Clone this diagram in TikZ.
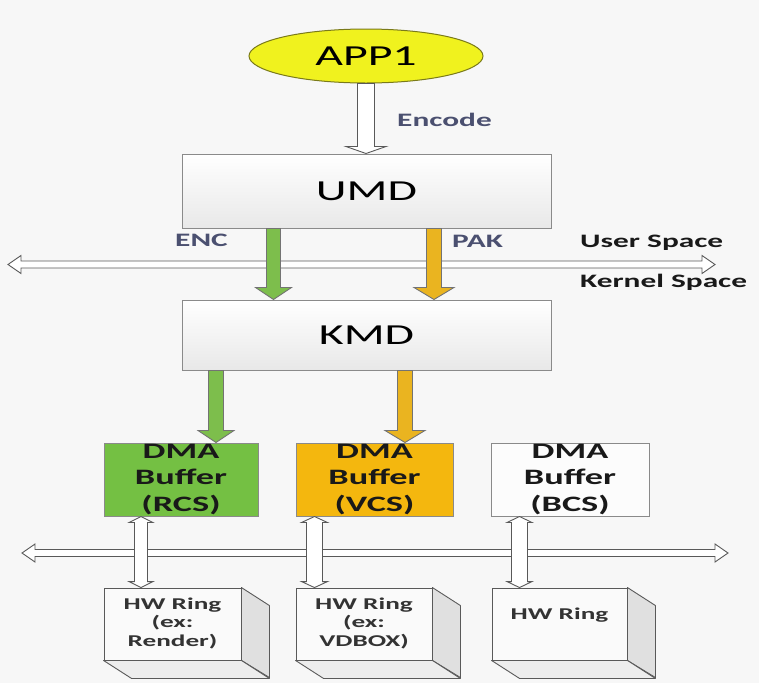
\documentclass[tikz,border=0pt]{standalone}
\usepackage{fontspec}
\setmainfont{Carlito}[FakeStretch=1.65]
\usetikzlibrary{calc,shapes.geometric}
\definecolor{bgc}{HTML}{F7F7F7}
\definecolor{boxline}{HTML}{8A8A8A}
\definecolor{appfill}{HTML}{F0F21E}
\definecolor{appline}{HTML}{7A7A1A}
\definecolor{dmagreen}{HTML}{74C043}
\definecolor{dmaorange}{HTML}{F4B70E}
\definecolor{arrgreen}{HTML}{7DBE4C}
\definecolor{arrorange}{HTML}{EAB420}
\definecolor{lblc}{HTML}{4B5070}
\definecolor{hwtxt}{HTML}{333333}
\newcommand\varrow[6]{\path[#1] let \p1=#2, \p2=#3 in
  (\x1-#4pt,\y1) -- (\x1+#4pt,\y1) -- (\x1+#4pt,\y2+#6pt) -- (\x1+#5pt,\y2+#6pt)
  -- (\x1,\y2) -- (\x1-#5pt,\y2+#6pt) -- (\x1-#4pt,\y2+#6pt) -- cycle;}
\newcommand\dvarrow[6]{\path[#1] let \p1=#2, \p2=#3 in
  (\x1,\y1) -- (\x1+#5pt,\y1-#6pt) -- (\x1+#4pt,\y1-#6pt) -- (\x1+#4pt,\y2+#6pt)
  -- (\x1+#5pt,\y2+#6pt) -- (\x1,\y2) -- (\x1-#5pt,\y2+#6pt) -- (\x1-#4pt,\y2+#6pt)
  -- (\x1-#4pt,\y1-#6pt) -- (\x1-#5pt,\y1-#6pt) -- cycle;}
\newcommand\harrow[6]{\path[#1] let \p1=#2, \p2=#3 in
  (\x1,\y1) -- (\x1+#6pt,\y1+#5pt) -- (\x1+#6pt,\y1+#4pt) -- (\x2-#6pt,\y1+#4pt)
  -- (\x2-#6pt,\y1+#5pt) -- (\x2,\y1) -- (\x2-#6pt,\y1-#5pt) -- (\x2-#6pt,\y1-#4pt)
  -- (\x1+#6pt,\y1-#4pt) -- (\x1+#6pt,\y1-#5pt) -- cycle;}
\begin{document}
\begin{tikzpicture}[x=1pt,y=-1pt,
  graybox/.style={draw=boxline,line width=1pt,rectangle,top color=white,bottom color=black!9,
    minimum width=369pt,minimum height=72pt,inner sep=0pt,font=\fontsize{29}{34}\selectfont},
  dmabox/.style={draw=boxline,line width=1pt,rectangle,minimum height=73pt,inner sep=0pt,
    align=center,text=black!90,font=\bfseries\fontsize{22}{26.5}\selectfont},
  hwbox/.style={draw=black!65,line width=0.9pt,rectangle,fill=black!2,minimum height=72pt,inner sep=0pt},
  hwside/.style={draw=black!65,line width=0.9pt,fill=black!12,line join=round},
  hwbottom/.style={draw=black!65,line width=0.9pt,fill=black!7,line join=round},
  hwtext/.style={align=center,text=hwtxt,inner sep=0pt,font=\bfseries\fontsize{16.5}{18.5}\selectfont},
  lbl/.style={anchor=base west,inner sep=0pt,text=lblc,font=\bfseries\fontsize{19}{22}\selectfont},
  spacelbl/.style={anchor=base west,inner sep=0pt,text=black!90,font=\bfseries\fontsize{19}{22}\selectfont},
  whitearrow/.style={draw=black!65,line width=0.9pt,fill=white,line join=miter},
  greenarrow/.style={draw=black!55,line width=0.9pt,fill=arrgreen,line join=miter},
  orangearrow/.style={draw=black!55,line width=0.9pt,fill=arrorange,line join=miter}]
\useasboundingbox (0,0) rectangle (759,683);
\fill[bgc] (0,0) rectangle (759,683);

% nodes
\node[ellipse,draw=appline,line width=1pt,fill=appfill,minimum width=234pt,minimum height=54pt,
  inner sep=0pt,font=\fontsize{29}{34}\selectfont] (app) at (366,56) {APP1};
\node[graybox,minimum height=74pt] (umd) at (366.5,191) {UMD};
\node[graybox,minimum height=70pt] (kmd) at (366.5,335) {KMD};

\node[dmabox,fill=dmagreen,minimum width=154pt] (dma1) at (181,479.5) {DMA\\Buffer\\(RCS)};
\node[dmabox,fill=dmaorange,minimum width=157pt] (dma2) at (374.5,479.5) {DMA\\Buffer\\(VCS)};
\node[dmabox,fill=black!1,minimum width=158pt] (dma3) at (570,479.5) {DMA\\Buffer\\(BCS)};

\node[hwbox,minimum width=137pt] (hw1) at (172.5,624) {};
\node[hwbox,minimum width=136pt] (hw2) at (364,624) {};
\node[hwbox,minimum width=135pt] (hw3) at (559.5,624) {};
\foreach \h in {hw1,hw2,hw3}{
  \draw[hwside] (\h.north east) -- ++(28,18) -- ++(0,72) -- (\h.south east) -- cycle;
  \draw[hwbottom] (\h.south west) -- ++(28,18) -- ($(\h.south east)+(28,18)$) -- (\h.south east) -- cycle;
}
\node[hwtext,anchor=north] (hw1t) at ([yshift=-10pt]hw1.north) {HW Ring\\(ex:\\Render)};
\node[hwtext,anchor=north] (hw2t) at ([yshift=-10pt]hw2.north) {HW Ring\\(ex:\\VDBOX)};
\node[hwtext,anchor=north] (hw3t) at ([yshift=-20pt]hw3.north) {HW Ring};

% labels
\node[lbl] (enclbl) at (397,126) {Encode};
\node[lbl] (enc) at (175,246) {ENC};
\node[lbl] (pak) at (452,247) {PAK};
\node[spacelbl] (usr) at (580,247) {User Space};
\node[spacelbl] (krn) at (580,287) {Kernel Space};

% buses
\coordinate (b1l) at (8,264.5);
\coordinate (b1r) at (715,264.5);
\coordinate (b2l) at (22,553);
\coordinate (b2r) at (728,553);
\harrow{whitearrow}{(b1l)}{(b1r)}{3.5}{9}{13}
\harrow{whitearrow}{(b2l)}{(b2r)}{3.5}{9}{13}

% arrows
\varrow{whitearrow}{(app.south)}{(umd.north)}{8.5}{20}{7}
\varrow{greenarrow}{([xshift=92pt]umd.south west)}{(kmd.north)}{7}{18}{12}
\varrow{orangearrow}{([xshift=252.5pt]umd.south west)}{(kmd.north)}{7.5}{20}{12}
\varrow{greenarrow}{([xshift=34.5pt]kmd.south west)}{(dma1.north)}{7.5}{18}{12}
\varrow{orangearrow}{([xshift=223.5pt]kmd.south west)}{(dma2.north)}{7.5}{20}{12}

\dvarrow{whitearrow}{([xshift=37.5pt]dma1.south west)}{(hw1.north)}{6.5}{12}{6}
\dvarrow{whitearrow}{([xshift=19pt]dma2.south west)}{(hw2.north)}{8}{13}{6}
\dvarrow{whitearrow}{([xshift=29pt]dma3.south west)}{(hw3.north)}{8}{12.5}{6}
\end{tikzpicture}
\end{document}
